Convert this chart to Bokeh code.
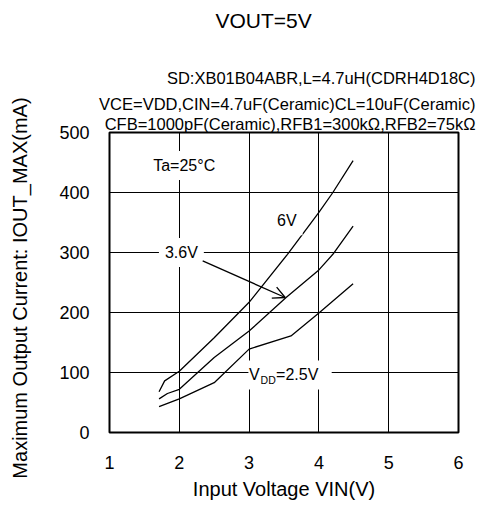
from bokeh.plotting import figure
from bokeh.models import Label, Arrow, OpenHead, Range1d, Title
from bokeh.embed import file_html
from bokeh.resources import INLINE

# ---- data ----
vin_6v = [1.71, 1.79, 2.0, 2.5, 3.0, 3.55, 4.0, 4.2, 4.49]
iout_6v = [68, 86, 102, 158, 217, 297, 367, 400, 453]
vin_36v = [1.71, 1.83, 2.0, 2.5, 3.0, 3.53, 4.0, 4.2, 4.49]
iout_36v = [56, 65, 72, 125, 169, 225, 271, 297, 344]
vin_25v = [1.71, 2.0, 2.5, 3.0, 3.6, 4.0, 4.49]
iout_25v = [43, 56, 83, 139, 161, 199, 248]
x_ticks = [1, 2, 3, 4, 5, 6]
y_ticks = [0, 100, 200, 300, 400, 500]

title_text = "VOUT=5V"
cond_lines = [
    "SD:XB01B04ABR,L=4.7uH(CDRH4D18C)",
    "VCE=VDD,CIN=4.7uF(Ceramic)CL=10uF(Ceramic)",
    "CFB=1000pF(Ceramic),RFB1=300k\u03a9,RFB2=75k\u03a9",
]
x_label = "Input Voltage VIN(V)"
y_label = "Maximum Output Current:   IOUT_MAX(mA)"

FONT = "Liberation Sans"

p = figure(width=480, height=528, x_range=Range1d(1, 6), y_range=Range1d(0, 500),
           output_backend="svg", toolbar_location=None,
           min_border_left=109, min_border_right=22, min_border_top=131, min_border_bottom=96)
p.background_fill_color = "white"
p.border_fill_color = "white"
p.outline_line_color = "black"
p.outline_line_width = 2

for ax in (p.xaxis[0], p.yaxis[0]):
    ax.axis_line_color = None
    ax.major_tick_line_color = None
    ax.minor_tick_line_color = None
    ax.major_tick_out = 0
    ax.major_tick_in = 0
    ax.major_label_text_font = FONT
    ax.major_label_text_font_size = "18px"
    ax.major_label_text_color = "black"
    ax.axis_label_text_font = FONT
    ax.axis_label_text_font_style = "normal"
    ax.axis_label_text_color = "black"
    ax.axis_label_text_font_size = "20px"

p.xaxis.ticker = x_ticks
p.yaxis.ticker = y_ticks
p.xaxis.major_label_standoff = 23
p.yaxis.major_label_standoff = 20
p.xaxis.axis_label = x_label
p.yaxis.axis_label = y_label
p.xaxis.axis_label_standoff = 6
p.yaxis.axis_label_standoff = 25

p.xgrid.grid_line_color = "black"
p.ygrid.grid_line_color = "black"
p.xgrid.grid_line_width = 1
p.ygrid.grid_line_width = 1

for xs, ys in ((vin_6v, iout_6v), (vin_36v, iout_36v), (vin_25v, iout_25v)):
    p.line(xs, ys, line_color="black", line_width=1.3)

# conditions and title above the frame (added from the frame outward)
standoffs = [11, 0, 0]
for txt, so in zip(reversed(cond_lines), reversed(standoffs)):
    p.add_layout(Title(text=txt, align="right", offset=-17, standoff=so,
                       text_font=FONT, text_font_size="16.5px", text_font_style="normal",
                       text_color="black"), "above")
# blank spacer between the conditions block and the main title
p.add_layout(Title(text=" ", standoff=17, text_font=FONT, text_font_size="1px"), "above")
p.add_layout(Title(text=title_text, align="left", offset=106, standoff=16, vertical_align="top",
                   text_font=FONT, text_font_size="21px", text_font_style="normal",
                   text_color="black"), "above")

def boxed(x, y, txt, size="16px", align="center"):
    p.add_layout(Label(x=x, y=y, text=txt, text_align=align, text_baseline="middle",
                       text_font=FONT, text_font_size=size, text_color="black",
                       background_fill_color="white", padding=6))

boxed(2.07, 445, "Ta=25\u00b0C")
boxed(3.54, 353, "6V")
boxed(2.03, 300, "3.6V")

# VDD=2.5V label with subscript
p.add_layout(Label(x=2.99, y=96, text="VDD=2.5V", text_align="left", text_baseline="middle",
                   text_font=FONT, text_font_size="15px", text_color="white",
                   background_fill_color="white", padding=6))
p.add_layout(Label(x=3.0, y=96, text="V", text_align="left", text_baseline="middle",
                   text_font=FONT, text_font_size="16px", text_color="black"))
p.add_layout(Label(x=3.0, y=96, x_offset=11.5, y_offset=-5, text="DD", text_align="left",
                   text_baseline="middle", text_font=FONT, text_font_size="10.5px", text_color="black"))
p.add_layout(Label(x=3.0, y=96, x_offset=27, text="=2.5V", text_align="left", text_baseline="middle",
                   text_font=FONT, text_font_size="16px", text_color="black"))

p.add_layout(Arrow(end=OpenHead(size=12, line_width=1.3, line_color="black"),
                   x_start=2.335, y_start=286, x_end=3.517, y_end=225,
                   line_width=1.3, line_color="black"))

open("out.html", "w").write(file_html(p, INLINE))
